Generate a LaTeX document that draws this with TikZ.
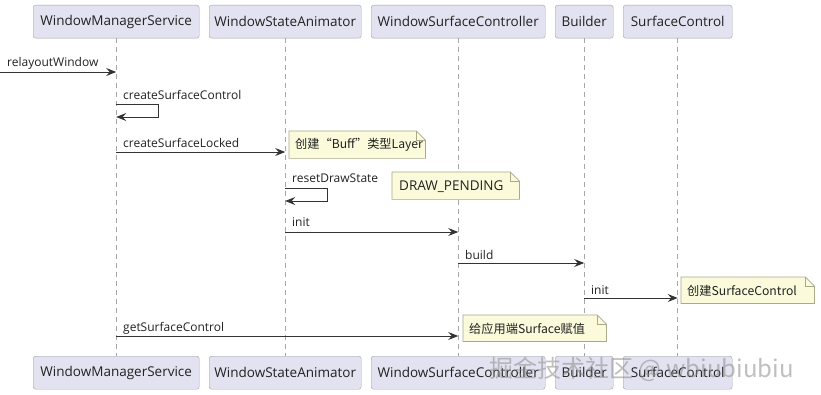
\documentclass[tikz,border=0pt]{standalone}
\usepackage{fontspec}
\setmainfont{Open Sans}
\newfontfamily\cjk{Noto Sans CJK SC}
\usetikzlibrary{arrows.meta,calc}
\definecolor{partfill}{HTML}{E2E2F0}
\definecolor{partdraw}{HTML}{A3A3AE}
\definecolor{notefill}{HTML}{FBFBDC}
\definecolor{notedraw}{HTML}{A9A98C}
\definecolor{txt}{HTML}{222222}
\newcommand\drawnotefold[1]{%
  \path[fill=notefill,draw=notedraw,line width=0.7pt]
    (#1.north west) -- ($(#1.north east)+(-9,0)$) -- ($(#1.north east)+(0,9)$)
    -- (#1.south east) -- (#1.south west) -- cycle;
  \draw[notedraw,line width=0.7pt] ($(#1.north east)+(-9,0)$) -- ($(#1.north east)+(-9,9)$) -- ($(#1.north east)+(0,9)$);
}
\begin{document}
\begin{tikzpicture}[x=1pt,y=-1pt,
  part/.style={draw=partdraw, fill=partfill, rounded corners=2.5pt, minimum height=33pt,
    inner sep=0pt, anchor=north west, font=\fontsize{13.5}{15}\selectfont, text=txt},
  life/.style={draw=black!35, dash pattern=on 5pt off 4pt, line width=0.9pt},
  msg/.style={draw=black!80, line width=0.9pt, -{Stealth[length=10pt,width=8pt,inset=3.5pt]}},
  lbl/.style={font=\fontsize{12}{14}\selectfont, anchor=base west, inner sep=0pt, text=txt},
  note/.style={anchor=north west, inner sep=0pt, font=\fontsize{12.2}{14}\selectfont, text=txt},
]
\useasboundingbox (0,0) rectangle (821,395);
\fill[white] (0,0) rectangle (821,395);

% participants top
\node[part, minimum width=166pt] (wmsT) at (33,5) {WindowManagerService};
\node[part, minimum width=152pt] (wsaT) at (209,5) {WindowStateAnimator};
\node[part, minimum width=174pt] (wscT) at (371,5) {WindowSurfaceController};
\node[part, minimum width=58pt] (bT) at (555,5) {Builder};
\node[part, minimum width=109pt] (scT) at (623,5) {SurfaceControl};
% participants bottom
\node[part, minimum width=166pt] (wmsB) at (33,356) {WindowManagerService};
\node[part, minimum width=152pt] (wsaB) at (209,356) {WindowStateAnimator};
\node[part, minimum width=174pt] (wscB) at (371,356) {WindowSurfaceController};
\node[part, minimum width=58pt] (bB) at (555,356) {Builder};
\node[part, minimum width=109pt] (scB) at (623,356) {SurfaceControl};

% lifelines
\foreach \p in {wms,wsa,wsc,b,sc}{
  \draw[life] (\p T.south) -- (\p B.north);
}

% relayoutWindow
\coordinate (m1) at (0,72);
\draw[msg] (m1) -- (m1 -| wmsT.south);
\node[lbl] at (7,67) {relayoutWindow};

% createSurfaceControl (self)
\coordinate (s1a) at (wmsT.south |- 0,104);
\coordinate (s1b) at (wmsT.south |- 0,117);
\draw[msg] (s1a) -- ++(42,0) -- ++(0,13) -- (s1b);
\node[lbl] at (123,100) {createSurfaceControl};

% createSurfaceLocked
\coordinate (m2) at (wmsT.south |- 0,152);
\draw[msg] (m2) -- (m2 -| wsaT.south);
\node[lbl] at (123,148) {createSurfaceLocked};

% note 1
\node[note, minimum width=136pt, minimum height=27pt] (n1) at (289,131) {};
\drawnotefold{n1}
\node[note, anchor=west] (n1t) at ($(n1.west)+(6,0.5)$) {\cjk 创建“Buff”类型Layer};

% resetDrawState (self)
\coordinate (s2a) at (wsaT.south |- 0,188);
\coordinate (s2b) at (wsaT.south |- 0,201);
\draw[msg] (s2a) -- ++(42,0) -- ++(0,13) -- (s2b);
\node[lbl] at (292,183) {resetDrawState};

% note 2
\node[note, minimum width=127pt, minimum height=27pt] (n2) at (392,172) {};
\drawnotefold{n2}
\node[note, anchor=west, font=\fontsize{13.5}{15}\selectfont] (n2t) at ($(n2.west)+(7,1)$) {DRAW\_PENDING};

% init (WSA -> WSC)
\coordinate (m3) at (wsaT.south |- 0,232);
\draw[msg] (m3) -- (m3 -| wscT.south);
\node[lbl] at (292,227) {init};

% build
\coordinate (m4) at (wscT.south |- 0,263);
\draw[msg] (m4) -- (m4 -| bT.south);
\node[lbl] at (465,259) {build};

% init (Builder -> SurfaceControl)
\coordinate (m5) at (bT.south |- 0,298);
\draw[msg] (m5) -- (m5 -| scT.south);
\node[lbl] at (591,294) {init};

% note 3
\node[note, minimum width=133pt, minimum height=26pt] (n3) at (681,277) {};
\drawnotefold{n3}
\node[note, anchor=west] (n3t) at ($(n3.west)+(6,0.5)$) {\cjk 创建SurfaceControl};

% getSurfaceControl
\coordinate (m6) at (wmsT.south |- 0,336);
\draw[msg] (m6) -- (m6 -| wscT.south);
\node[lbl] at (123,331) {getSurfaceControl};

% note 4
\node[note, minimum width=143pt, minimum height=26pt] (n4) at (463,315) {};
\drawnotefold{n4}
\node[note, anchor=west] (n4t) at ($(n4.west)+(6,0.5)$) {\cjk 给应用端Surface赋值};

% watermark
\node[anchor=west, inner sep=0pt, text=black!45, opacity=0.55, font=\cjk\fontsize{24}{27}\selectfont] (wm) at (489,369) {掘金技术社区 @ wbiubiubiu};
\end{tikzpicture}
\end{document}
